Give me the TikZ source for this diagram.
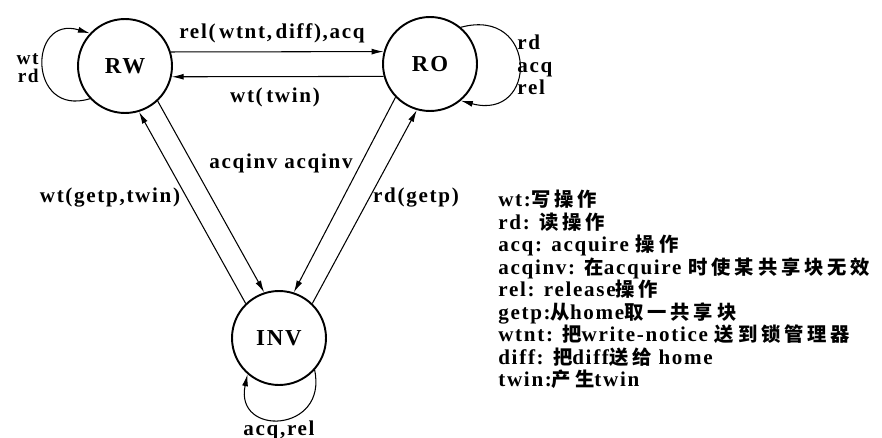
\documentclass[tikz,border=0pt]{standalone}
\usepackage{fontspec}
\setmainfont{Liberation Serif}[LetterSpace=8]
\newfontfamily\cjk{Noto Sans CJK SC}[LetterSpace=20]
\newcommand{\zh}[1]{{\cjk\fontsize{11}{12.8}\selectfont #1}}
\usetikzlibrary{arrows.meta,positioning}

\begin{document}
\begin{tikzpicture}[x=0.02cm,y=0.02cm,
  font=\fontsize{12}{12.8}\selectfont\bfseries,
  state/.style={draw,circle,line width=1.1pt,minimum size=1.88cm,inner sep=0pt,
    font=\fontsize{13}{13}\selectfont\bfseries},
  trans/.style={line width=0.6pt,-{Latex[length=2.4mm,width=1.2mm]}},
  lbl/.style={inner sep=0pt}]
\useasboundingbox (0,0) rectangle (882,437);
% the three page states
\node[state] (RW) at (125,371) {RW};
\node[state] (RO) at (430,373) {RO};
\node[state] (INV) at (279,99) {INV};
% transitions
\draw[trans] (RW.17) -- (RO.165);
\draw[trans] (RO.-165) -- (RW.-13);
\draw[trans] (RW.-47) -- (INV.108);
\draw[trans] (INV.134) -- (RW.-73);
\draw[trans] (RO.-136) -- (INV.72);
\draw[trans] (INV.46) -- (RO.-106);
% self loops
\draw[trans] (RW.223) to[out=197,in=163,looseness=2.55] (RW.137);
\draw[trans] (RO.50) to[out=15,in=-15,looseness=2.8] (RO.-50);
\draw[trans] (INV.318) to[out=-78,in=-102,looseness=2.45] (INV.229);
% transition labels
\node[lbl] (l-rel) at (272,404) {rel(\,wtnt,\,diff),acq};
\node[lbl] (l-wttwin) at (275,340) {wt(\,twin)};
\node[lbl] (l-acqinv) at (281,274) {acqinv acqinv};
\node[lbl] (l-wtgetp) at (110,239) {wt(getp,twin)};
\node[lbl] (l-rdgetp) at (416,239) {rd(getp)};
\node[lbl,align=right,anchor=east,font=\fontsize{11}{10.5}\selectfont\bfseries] (l-rwloop) at (39,369) {wt\\rd};
\node[lbl,align=left,anchor=west] (l-roloop) at (517,372) {rd\\acq\\rel};
\node[lbl] (l-invloop) at (279,7) {acq,rel};
% legend
\node[lbl,align=left,anchor=north west] (legend) at (498,247) {%
  wt:\zh{写操作}\\
  rd: \zh{读操作}\\
  acq: acquire \zh{操作}\\
  acqinv: \zh{在}acquire \zh{时使某共享块无效}\\
  rel: release\zh{操作}\\
  getp:\zh{从}home\zh{取一共享块}\\
  wtnt: \zh{把}write-notice \zh{送到锁管理器}\\
  diff: \zh{把}diff\zh{送给} home\\
  twin:\zh{产生}twin};
\end{tikzpicture}
\end{document}
